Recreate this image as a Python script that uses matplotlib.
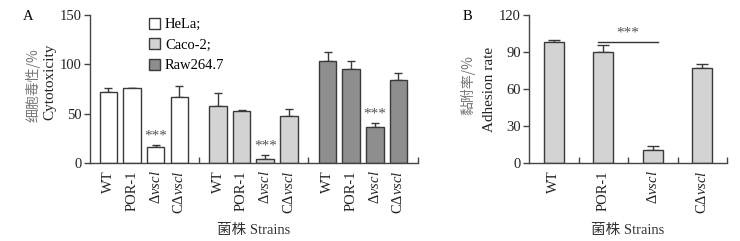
import matplotlib
matplotlib.use("Agg")
import matplotlib.pyplot as plt
from matplotlib.patches import Patch
import numpy as np

plt.rcParams["font.family"] = ["Liberation Serif", "Noto Sans CJK SC"]
plt.rcParams["mathtext.fontset"] = "custom"
plt.rcParams["mathtext.rm"] = "Liberation Serif"
plt.rcParams["mathtext.it"] = "Liberation Serif:italic"

strains = ["WT", "POR-1", "Δ$\\mathit{vscl}$", "CΔ$\\mathit{vscl}$"]
cell_lines = ["HeLa;", "Caco-2;", "Raw264.7"]
cyto_mean = [
    [72.4, 76.0, 16.8, 67.4],
    [58.0, 53.2, 4.4, 48.2],
    [103.5, 95.4, 37.1, 84.2],
]
cyto_err = [
    [3.4, 0.0, 1.8, 10.8],
    [13.4, 0.5, 4.0, 6.4],
    [9.4, 8.4, 3.4, 6.8],
]
adhesion_mean = [98.4, 90.3, 10.8, 77.4]
adhesion_err = [1.5, 5.4, 3.5, 2.7]

colors = ["#ffffff", "#d3d3d3", "#8e8e8e"]
edge = "#3a3a3a"
gray_txt = "#777777"

fig = plt.figure(figsize=(7.4, 2.41), dpi=100)
axA = fig.add_axes([90 / 740, 1 - 163.3 / 241, 328 / 740, 148.3 / 241])
axB = fig.add_axes([529 / 740, 1 - 163.3 / 241, 198 / 740, 148.3 / 241])


def style_axis(ax):
    for side in ("top", "right"):
        ax.spines[side].set_visible(False)
    for side in ("left", "bottom"):
        ax.spines[side].set_color("#444444")
        ax.spines[side].set_linewidth(1.0)
    ax.tick_params(axis="y", direction="out", length=4, width=1, colors="#444444",
                   labelcolor="#222222", labelsize=10.5, pad=2)
    ax.tick_params(axis="x", which="major", length=0, labelsize=10.5, labelcolor="#222222",
                   pad=5, labelrotation=90)
    ax.tick_params(axis="x", which="minor", direction="in", length=4, width=1,
                   colors="#444444")


# panel A
group_gap = 4.64
width = 0.74
handles = []
for g, line in enumerate(cell_lines):
    x = g * group_gap + np.arange(len(strains))
    axA.bar(x, cyto_mean[g], width, color=colors[g], edgecolor=edge, linewidth=1, zorder=2)
    axA.errorbar(x, cyto_mean[g], yerr=[np.zeros(len(x)), cyto_err[g]], fmt="none",
                 ecolor=edge, elinewidth=1, capsize=3, capthick=1, zorder=1)
    top = cyto_mean[g][2] + cyto_err[g][2]
    axA.annotate("***", (x[2], top), xytext=(0, 2), textcoords="offset points",
                 ha="center", va="bottom", fontsize=11, color="#555555")
    handles.append(Patch(facecolor=colors[g], edgecolor=edge, linewidth=1, label=line))

xA = np.concatenate([g * group_gap + np.arange(len(strains)) for g in range(len(cell_lines))])
axA.set_xticks(xA)
axA.set_xticklabels(strains * len(cell_lines), va="top")
axA.set_xticks([3.82, 3 + group_gap + 0.82, 13.11], minor=True)
axA.set_xlim(-0.78, 13.11)
axA.set_ylim(0, 150)
axA.set_yticks([0, 50, 100, 150])
style_axis(axA)
axA.legend(handles=handles, loc="upper left", bbox_to_anchor=(0.18, 0.98), frameon=False,
           fontsize=10.5, handlelength=0.75, handleheight=0.75, handletextpad=0.35,
           labelspacing=0.48, borderaxespad=0, borderpad=0)

axA.text(-0.174, 0.53, "细胞毒性/%", rotation=90, ha="center", va="center",
         transform=axA.transAxes, fontsize=10, color=gray_txt,
         family=["Noto Sans CJK SC", "DejaVu Sans"])
axA.text(-0.122, 0.55, "Cytotoxicity", rotation=90, ha="center", va="center",
         transform=axA.transAxes, fontsize=11, color="#222222")
axA.text(0.5, -0.45, "菌株 Strains", ha="center", va="center",
         transform=axA.transAxes, fontsize=10.5, color="#333333")

# panel B
xB = np.arange(len(strains))
axB.bar(xB, adhesion_mean, 0.4, color=colors[1], edgecolor=edge, linewidth=1, zorder=2)
axB.errorbar(xB, adhesion_mean, yerr=[np.zeros(len(xB)), adhesion_err], fmt="none",
             ecolor=edge, elinewidth=1, capsize=4, capthick=1, zorder=1)
axB.plot([0.9, 2.1], [98.2, 98.2], color="#333333", lw=1)
axB.text(1.5, 100, "***", ha="center", va="bottom", fontsize=11, color="#555555")
axB.set_xticks(xB)
axB.set_xticklabels(strains, va="top")
axB.set_xticks(xB + 0.5, minor=True)
axB.set_xlim(-0.5, 3.5)
axB.set_ylim(0, 120)
axB.set_yticks([0, 30, 60, 90, 120])
style_axis(axB)

axB.text(-0.308, 0.53, "黏附率/%", rotation=90, ha="center", va="center",
         transform=axB.transAxes, fontsize=10, color=gray_txt,
         family=["Noto Sans CJK SC", "DejaVu Sans"])
axB.text(-0.197, 0.50, "Adhesion rate", rotation=90, ha="center", va="center",
         transform=axB.transAxes, fontsize=11, color="#222222")
axB.text(0.5, -0.45, "菌株 Strains", ha="center", va="center",
         transform=axB.transAxes, fontsize=10.5, color="#333333")

fig.text(28 / 740, 1 - 17 / 241, "A", ha="center", va="center", fontsize=10.5)
fig.text(467 / 740, 1 - 17 / 241, "B", ha="center", va="center", fontsize=10.5)

fig.savefig("out.png", dpi=100)
